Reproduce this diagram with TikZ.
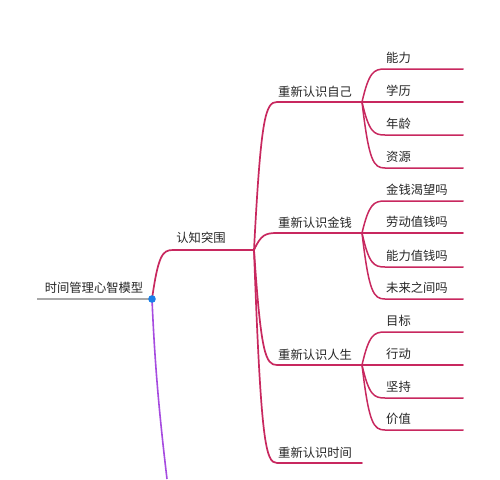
\documentclass[tikz,border=0pt]{standalone}
\usepackage{fontspec}
\newfontfamily\cjk{Noto Sans CJK SC}
\usetikzlibrary{calc}
\definecolor{br}{HTML}{C8285F}
\definecolor{pu}{HTML}{A64BE0}
\definecolor{bl}{HTML}{1A7FE8}
\definecolor{gr}{HTML}{A8A8A8}
\definecolor{tx}{HTML}{262626}
\tikzset{
  txt/.style={font=\cjk\fontsize{12.3}{14}\selectfont, text=tx, inner sep=0pt, anchor=west},
  rline/.style={draw=br, line width=1.7pt, line cap=round},
  branch/.style={to path={let \p1=(\tikztostart), \p2=(\tikztotarget) in
     .. controls ({\x1+0.3*(\x2-\x1)},{\y1+0.9*(\y2-\y1)}) and ({\x1+0.5*(\x2-\x1)},{\y2}) .. (\tikztotarget)}}
}
\begin{document}
\begin{tikzpicture}[x=1pt,y=-1pt]
\useasboundingbox[fill=white] (0,0) rectangle (500,479);
% root
\coordinate (rootL) at (37,299);
\coordinate (root) at (152,299);
\coordinate (down) at (167,479);
\node[txt, anchor=center] (rootT) at (94,288) {时间管理心智模型};
\draw[gr, line width=1.6pt] (rootL) -- (root);
\draw[pu, line width=1.6pt] (root) .. controls (155,370) and (160,420) .. (down);
% level 1
\coordinate (l1s) at (173,250);
\coordinate (l1e) at (254,250);
\node[txt, anchor=center] (l1T) at (201,238) {认知突围};
\draw[rline] (root) to[branch] (l1s) -- (l1e);
% level 2
\foreach \nm/\yy/\lbl in {a/102/重新认识自己, b/233/重新认识金钱, c/365/重新认识人生, d/463/重新认识时间}{
  \coordinate (\nm s) at (277,\yy);
  \coordinate (\nm e) at (362,\yy);
  \node[txt] (\nm T) at (278,\yy-10.5) {\lbl};
  \draw[rline] (l1e) to[branch] (\nm s) -- (\nm e);
}
% level 3
\foreach \pr/\nm/\yy/\lbl in {a/a1/69/能力, a/a2/102/学历, a/a3/135/年龄, a/a4/168/资源,
  b/b1/201/金钱渴望吗, b/b2/233/劳动值钱吗, b/b3/267/能力值钱吗, b/b4/299/未来之间吗,
  c/c1/332/目标, c/c2/365/行动, c/c3/398/坚持, c/c4/430/价值}{
  \coordinate (\nm s) at (385,\yy);
  \coordinate (\nm e) at (463,\yy);
  \node[txt] (\nm T) at (386,\yy-11) {\lbl};
  \draw[rline, line width=1.5pt] (\pr e) to[branch] (\nm s) -- (\nm e);
}
\fill[bl] (root) circle (3.8);
\end{tikzpicture}
\end{document}
